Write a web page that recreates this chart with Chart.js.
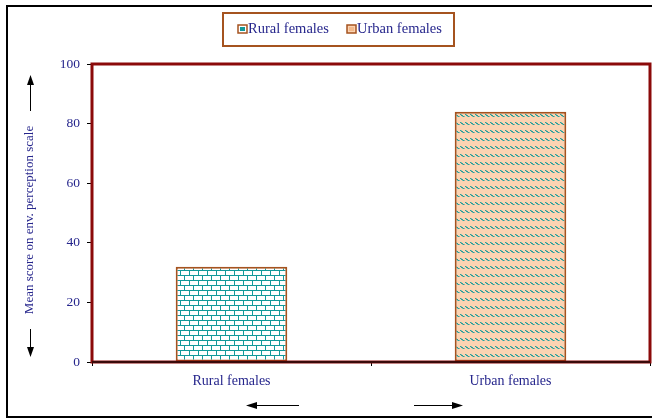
<!DOCTYPE html>
<html>
<head>
<meta charset="utf-8">
<script src="https://cdn.jsdelivr.net/npm/chart.js@4.4.1/dist/chart.umd.min.js"></script>
<style>
html,body{margin:0;padding:0;background:#fff;}
#wrap{width:652px;height:419px;position:relative;}
</style>
</head>
<body>
<div id="wrap"><canvas id="c" width="652" height="419"></canvas></div>
<script>
const categories = ['Rural females', 'Urban females'];
const meanScores = [32, 84];
const yTickValues = [0, 20, 40, 60, 80, 100];
const yAxisTitle = 'Mean score on env. perception scale';

const NAVY = '#26268c';
const BROWN = '#a5531f';
const DARKRED = '#8b0a0a';
const TEAL = '#12999a';
const FONT = '"Liberation Serif", "Times New Roman", serif';

function brickPattern() {
  const t = document.createElement('canvas');
  t.width = 9; t.height = 10;
  const g = t.getContext('2d');
  g.fillStyle = '#ffffff'; g.fillRect(0, 0, 9, 10);
  g.fillStyle = TEAL;
  g.fillRect(0, 0, 9, 1);
  g.fillRect(0, 5, 9, 1);
  g.fillRect(0, 0, 1, 5);
  g.fillRect(4, 5, 1, 5);
  return g.createPattern(t, 'repeat');
}
function wavePattern() {
  const t = document.createElement('canvas');
  t.width = 5; t.height = 8;
  const g = t.getContext('2d');
  g.fillStyle = '#fbd3b2'; g.fillRect(0, 0, 5, 8);
  g.fillStyle = '#2a9d98';
  [[0,2],[1,3],[2,3],[3,4]].forEach(p => g.fillRect(p[0], p[1], 1, 1));
  g.fillStyle = '#7fbcae';
  [[1,2],[2,4],[4,4]].forEach(p => g.fillRect(p[0], p[1], 1, 1));
  return g.createPattern(t, 'repeat');
}
const pats = [brickPattern(), wavePattern()];

function arrowHead(ctx, x, y, dir, len, half) {
  ctx.beginPath();
  if (dir === 'up') { ctx.moveTo(x, y); ctx.lineTo(x - half, y + len); ctx.lineTo(x + half, y + len); }
  if (dir === 'down') { ctx.moveTo(x, y); ctx.lineTo(x - half, y - len); ctx.lineTo(x + half, y - len); }
  if (dir === 'left') { ctx.moveTo(x, y); ctx.lineTo(x + len, y - half); ctx.lineTo(x + len, y + half); }
  if (dir === 'right') { ctx.moveTo(x, y); ctx.lineTo(x - len, y - half); ctx.lineTo(x - len, y + half); }
  ctx.closePath(); ctx.fill();
}

const decor = {
  id: 'decor',
  beforeDraw(chart) {
    const ctx = chart.ctx;
    ctx.save();
    ctx.fillStyle = '#fff';
    ctx.fillRect(0, 0, chart.width, chart.height);
    ctx.strokeStyle = '#000'; ctx.lineWidth = 2;
    ctx.beginPath();
    ctx.moveTo(652, 6); ctx.lineTo(7, 6); ctx.lineTo(7, 417); ctx.lineTo(652, 417);
    ctx.stroke();
    ctx.restore();
  },
  afterDatasetsDraw(chart) {
    const ctx = chart.ctx, a = chart.chartArea;
    ctx.save();
    ctx.strokeStyle = DARKRED; ctx.lineWidth = 3;
    ctx.strokeRect(a.left, a.top, a.right - a.left, a.bottom - a.top);
    ctx.strokeStyle = '#3a0a0a'; ctx.lineWidth = 2;
    ctx.beginPath(); ctx.moveTo(a.left, a.bottom); ctx.lineTo(a.right, a.bottom); ctx.stroke();
    // y axis title with arrows
    ctx.fillStyle = NAVY;
    ctx.font = '13px ' + FONT;
    ctx.translate(30, 220);
    ctx.rotate(-Math.PI / 2);
    ctx.textAlign = 'center'; ctx.textBaseline = 'middle';
    ctx.fillText(yAxisTitle, 0, 0);
    ctx.setTransform(1, 0, 0, 1, 0, 0);
    ctx.strokeStyle = '#000'; ctx.fillStyle = '#000'; ctx.lineWidth = 1;
    ctx.beginPath(); ctx.moveTo(30.5, 84); ctx.lineTo(30.5, 111); ctx.moveTo(30.5, 329); ctx.lineTo(30.5, 348); ctx.stroke();
    arrowHead(ctx, 30.5, 75, 'up', 10, 3.5);
    arrowHead(ctx, 30.5, 357, 'down', 10, 3.5);
    // bottom arrows
    ctx.beginPath(); ctx.moveTo(256, 405.5); ctx.lineTo(299, 405.5); ctx.moveTo(414, 405.5); ctx.lineTo(454, 405.5); ctx.stroke();
    arrowHead(ctx, 246, 405.5, 'left', 11, 3.5);
    arrowHead(ctx, 463, 405.5, 'right', 11, 3.5);
    // legend
    ctx.strokeStyle = BROWN; ctx.lineWidth = 2;
    ctx.strokeRect(223, 13, 231, 33);
    ctx.font = '14.5px ' + FONT; ctx.textAlign = 'left'; ctx.textBaseline = 'middle';
    const items = [{x: 238, tx: 248}, {x: 347, tx: 357}];
    items.forEach((it, i) => {
      ctx.fillStyle = i === 0 ? '#ffffff' : '#fbd3b2';
      ctx.fillRect(it.x, 25, 9, 8);
      ctx.fillStyle = i === 0 ? TEAL : '#f3b98a';
      ctx.fillRect(it.x + 2, 27, 5, 4);
      ctx.strokeStyle = BROWN; ctx.lineWidth = 1.5;
      ctx.strokeRect(it.x, 25, 9, 8);
      ctx.fillStyle = NAVY;
      ctx.fillText(categories[i], it.tx, 29.5);
    });
    ctx.restore();
  }
};

new Chart(document.getElementById('c'), {
  type: 'bar',
  data: {
    labels: categories,
    datasets: [{
      label: 'Mean score',
      data: meanScores,
      backgroundColor: pats,
      borderColor: BROWN,
      borderWidth: 2,
      borderSkipped: false,
      barPercentage: 0.4,
      categoryPercentage: 1.0
    }]
  },
  options: {
    responsive: false,
    animation: false,
    layout: { padding: { top: 64, right: 2, left: 0, bottom: 0 } },
    plugins: { legend: { display: false }, tooltip: { enabled: false } },
    scales: {
      x: {
        offset: true,
        grid: { display: true, drawOnChartArea: false, drawTicks: true, tickLength: 4, color: '#000', offset: true },
        border: { display: false },
        ticks: { color: NAVY, font: { family: FONT, size: 14 }, padding: 7, maxRotation: 0 },
        afterFit(s) { s.height = 57; }
      },
      y: {
        min: 0, max: 100,
        afterBuildTicks(s) { s.ticks = yTickValues.map(v => ({ value: v })); },
        grid: { display: true, drawOnChartArea: false, drawTicks: true, tickLength: 5, color: '#000' },
        border: { display: false },
        ticks: { color: NAVY, font: { family: FONT, size: 13.5 }, padding: 7 },
        afterFit(s) { s.width = 92; }
      }
    }
  },
  plugins: [decor]
});
</script>
</body>
</html>
